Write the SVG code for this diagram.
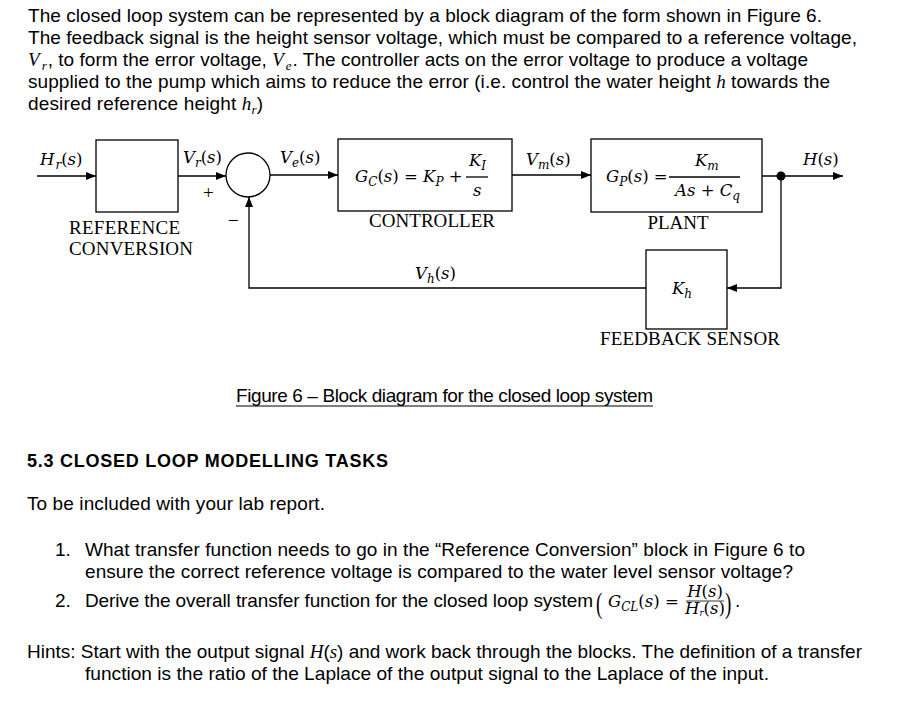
<svg xmlns="http://www.w3.org/2000/svg" width="901" height="709" viewBox="0 0 901 709">
<defs>
<marker id="ah" markerWidth="10" markerHeight="8" refX="10" refY="4" orient="auto" markerUnits="userSpaceOnUse">
<path d="M0,0 L10,4 L0,8 Z" fill="#000"/>
</marker>
<style>
.p{font-family:"Liberation Sans",Arial,sans-serif;font-size:19px;fill:#000}
.b{font-weight:bold;font-size:18px}
.m{font-family:"Liberation Serif","Times New Roman",serif;font-style:italic;fill:#000}
.u{font-style:normal}
.lab{font-family:"Liberation Serif","Times New Roman",serif;font-size:19px;fill:#000}
.box{fill:#fff;stroke:#000;stroke-width:1.3}
.ln{fill:none;stroke:#000;stroke-width:1.3}
.ml{font-family:"DejaVu Serif","Liberation Serif",serif;font-style:italic;font-size:16.5px;fill:#000}
.sb{font-size:12px}
</style>
</defs>
<rect width="901" height="709" fill="#fff"/>

<g id="intro">
<text class="p" x="28" y="22" textLength="794">The closed loop system can be represented by a block diagram of the form shown in Figure 6.</text>
<text class="p" x="28" y="44" textLength="829">The feedback signal is the height sensor voltage, which must be compared to a reference voltage,</text>
<text class="p" x="28" y="66" textLength="780"><tspan class="m">V</tspan><tspan class="m" font-size="13" dx="2" dy="4">r</tspan><tspan dx="1" dy="-4">, to form the error voltage, </tspan><tspan class="m">V</tspan><tspan class="m" font-size="13" dx="2" dy="4">e</tspan><tspan dx="1" dy="-4">.  The controller acts on the error voltage to produce a voltage</tspan></text>
<text class="p" x="28" y="88" textLength="802">supplied to the pump which aims to reduce the error (i.e. control the water height <tspan class="m">h</tspan> towards the</text>
<text class="p" x="28" y="110" textLength="235">desired reference height <tspan class="m">h</tspan><tspan class="m" font-size="13" dy="4">r</tspan><tspan dy="-4">)</tspan></text>
</g>

<g id="connectors">
<line class="ln" x1="37" y1="176" x2="96" y2="176" marker-end="url(#ah)"/>
<line class="ln" x1="178" y1="176" x2="226" y2="176" marker-end="url(#ah)"/>
<line class="ln" x1="270" y1="175" x2="338" y2="175" marker-end="url(#ah)"/>
<line class="ln" x1="512" y1="175" x2="591" y2="175" marker-end="url(#ah)"/>
<line class="ln" x1="762" y1="176" x2="843" y2="176" marker-end="url(#ah)"/>
<polyline class="ln" points="781,176 781,288 727,288" marker-end="url(#ah)"/>
<polyline class="ln" points="646,288 249,288 249,197" marker-end="url(#ah)"/>
</g>

<g id="branch-point"><circle cx="781" cy="176" r="4.5" fill="#000"/></g>

<g id="signal-labels">
<text class="ml" x="40" y="165">H<tspan class="sb" dx="1" dy="4">r</tspan><tspan dy="-4" class="u">(</tspan>s<tspan class="u">)</tspan></text>
<text class="ml" x="183" y="163">V<tspan class="sb" dy="4">r</tspan><tspan dy="-4" class="u">(</tspan>s<tspan class="u">)</tspan></text>
<text class="ml" x="280" y="163">V<tspan class="sb" dy="4">e</tspan><tspan dy="-4" class="u">(</tspan>s<tspan class="u">)</tspan></text>
<text class="ml" x="526" y="165">V<tspan class="sb" dy="4">m</tspan><tspan dy="-4" class="u">(</tspan>s<tspan class="u">)</tspan></text>
<text class="ml" x="803" y="165">H<tspan class="u">(</tspan>s<tspan class="u">)</tspan></text>
<text class="ml" x="415" y="279">V<tspan class="sb" dy="4">h</tspan><tspan dy="-4" class="u">(</tspan>s<tspan class="u">)</tspan></text>
<text class="lab" x="203" y="199" font-size="20">+</text>
<text class="lab" x="228" y="227" font-size="20">−</text>
</g>

<g id="reference-conversion">
<rect class="box" x="96" y="140" width="82" height="72"/>
<text class="lab" x="69" y="234" textLength="111">REFERENCE</text>
<text class="lab" x="69" y="255" textLength="124">CONVERSION</text>
</g>

<g id="summing-junction">
<circle class="box" cx="248" cy="175" r="22"/>
</g>

<g id="controller">
<rect class="box" x="338" y="139" width="174" height="72"/>
<text class="ml" x="355" y="182">G<tspan class="sb" dy="4">C</tspan><tspan dy="-4" class="u">(</tspan>s<tspan class="u">) = </tspan>K<tspan class="sb" dy="4">P</tspan><tspan dy="-4" class="u"> +</tspan></text>
<text class="ml" x="469" y="166">K<tspan class="sb" dy="4">I</tspan></text>
<line class="ln" x1="466" y1="177" x2="488" y2="177" stroke-width="1"/>
<text class="ml" x="473" y="196">s</text>
<text class="lab" x="432" y="227" text-anchor="middle" textLength="126">CONTROLLER</text>
</g>

<g id="plant">
<rect class="box" x="591" y="139" width="171" height="73"/>
<text class="ml" x="606" y="182">G<tspan class="sb" dy="4">P</tspan><tspan dy="-4" class="u">(</tspan>s<tspan class="u">) =</tspan></text>
<text class="ml" x="695" y="166">K<tspan class="sb" dy="4">m</tspan></text>
<line class="ln" x1="669" y1="177" x2="740" y2="177" stroke-width="1"/>
<text class="ml" x="675" y="196">As <tspan class="u">+</tspan> C<tspan class="sb" dy="4">q</tspan></text>
<text class="lab" x="678" y="229" text-anchor="middle">PLANT</text>
</g>

<g id="feedback-sensor">
<rect class="box" x="646" y="250" width="81" height="79"/>
<text class="ml" x="672" y="294">K<tspan class="sb" dy="4">h</tspan></text>
<text class="lab" x="690" y="345" text-anchor="middle" textLength="180">FEEDBACK SENSOR</text>
</g>

<g id="caption">
<text class="p" x="236" y="402" font-size="17.5" textLength="417">Figure 6 – Block diagram for the closed loop system</text>
<line x1="236" y1="406" x2="653" y2="406" stroke="#000" stroke-width="1"/>
</g>

<g id="tasks">
<text class="p b" x="27" y="467" textLength="361">5.3 CLOSED LOOP MODELLING TASKS</text>
<text class="p" x="27" y="510" textLength="298">To be included with your lab report.</text>
<text class="p" x="55" y="556">1.</text>
<text class="p" x="85" y="556" textLength="720">What transfer function needs to go in the “Reference Conversion” block in Figure 6 to</text>
<text class="p" x="85" y="578" textLength="708">ensure the correct reference voltage is compared to the water level sensor voltage?</text>
<text class="p" x="55" y="607">2.</text>
<text class="p" x="85" y="607" textLength="508">Derive the overall transfer function for the closed loop system</text>
<text class="lab" transform="translate(596,613) scale(1,1.55)" font-size="20">(</text>
<text class="ml" x="608" y="607">G<tspan class="sb" dy="4">CL</tspan><tspan dy="-4" class="u">(</tspan>s<tspan class="u">) =</tspan></text>
<text class="ml" x="705" y="597" font-size="11.5" text-anchor="middle">H<tspan class="u">(</tspan>s<tspan class="u">)</tspan></text>
<line x1="686" y1="601" x2="724" y2="601" stroke="#000" stroke-width="0.8"/>
<text class="ml" x="705" y="614" font-size="11.5" text-anchor="middle">H<tspan font-size="8.5" dy="2">r</tspan><tspan dy="-2" class="u">(</tspan>s<tspan class="u">)</tspan></text>
<text class="lab" transform="translate(725,613) scale(1,1.55)" font-size="20">)</text>
<text class="p" x="735" y="607">.</text>
</g>

<g id="hints">
<text class="p" x="27" y="658" font-size="21" textLength="835" lengthAdjust="spacingAndGlyphs">Hints: Start with the output signal <tspan class="m">H</tspan>(<tspan class="m">s</tspan>) and work back through the blocks.  The definition of a transfer</text>
<text class="p" x="85" y="680" font-size="21" textLength="684" lengthAdjust="spacingAndGlyphs">function is the ratio of the Laplace of the output signal to the Laplace of the input.</text>
</g>
</svg>
